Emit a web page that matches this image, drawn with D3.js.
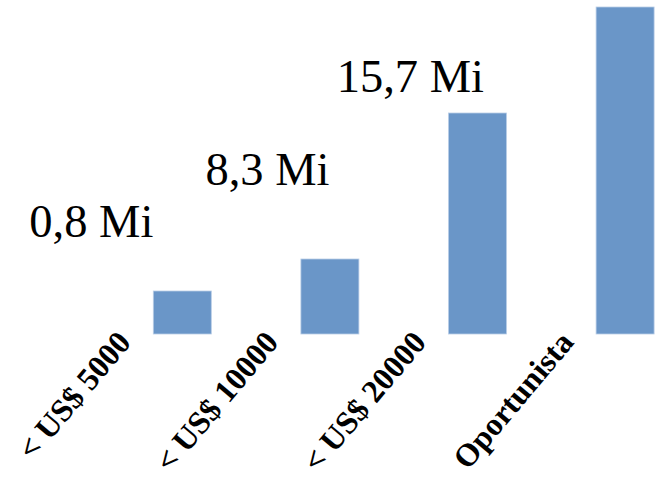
<!DOCTYPE html>
<html>
<head>
<meta charset="utf-8">
<script src="https://cdn.jsdelivr.net/npm/d3@7"></script>
<style>
  html, body { margin: 0; padding: 0; background: #ffffff; }
  svg { display: block; }
</style>
</head>
<body>
<script>
// Categories along the x axis
const categories = ["< US$ 5000", "< US$ 10000", "< US$ 20000", "Oportunista"];
// Bar values (relative size of each group)
const barValues = [4.3, 7.5, 22.1, 32.7];
// Callout annotations and the category they sit beside
const calloutTexts = ["0,8 Mi", "8,3 Mi", "15,7 Mi"];
const calloutCategories = ["< US$ 5000", "< US$ 10000", "< US$ 20000"];

const W = 657, H = 483;
const baseY = 334;

const svg = d3.select("body").append("svg")
  .attr("width", W).attr("height", H);

const x = d3.scaleBand()
  .domain(categories)
  .range([153.3, 654.1])
  .paddingInner(0.607)
  .paddingOuter(0);

const y = d3.scaleLinear()
  .domain([0, 33.4])
  .range([baseY, 0]);

// Bars
svg.append("g").selectAll("rect")
  .data(categories.map((c, i) => ({ c, v: barValues[i] })))
  .join("rect")
  .attr("x", d => x(d.c))
  .attr("y", d => y(d.v))
  .attr("width", x.bandwidth())
  .attr("height", d => y(0) - y(d.v))
  .attr("fill", "#6a96c8")
  .attr("stroke", "#b9cde6")
  .attr("stroke-width", 0.8);

// Category axis: no line, rotated bold labels
const axis = d3.axisBottom(x).tickSize(0).tickPadding(0);
const gAxis = svg.append("g")
  .attr("transform", `translate(0,${baseY})`)
  .call(axis);
gAxis.select(".domain").remove();
gAxis.selectAll(".tick text")
  .attr("font-family", "'Liberation Serif', serif")
  .attr("font-weight", "bold")
  .attr("font-size", 32)
  .attr("fill", "#000")
  .attr("text-anchor", "end")
  .attr("dy", null)
  .attr("y", 0)
  .attr("transform", "translate(-50,9) rotate(-50)");

// Callout annotations to the upper left of each bar
const calloutOffsets = [[0, -97.3], [28.5, -149], [35.5, -242.3]];
svg.append("g").selectAll("text")
  .data(calloutTexts.map((t, i) => ({ t, c: calloutCategories[i], o: calloutOffsets[i] })))
  .join("text")
  .attr("x", d => x(d.c) + d.o[0])
  .attr("y", d => baseY + d.o[1])
  .attr("text-anchor", "end")
  .attr("font-family", "'Liberation Serif', serif")
  .attr("font-size", 46.5)
  .attr("fill", "#000")
  .text(d => d.t);
</script>
</body>
</html>
